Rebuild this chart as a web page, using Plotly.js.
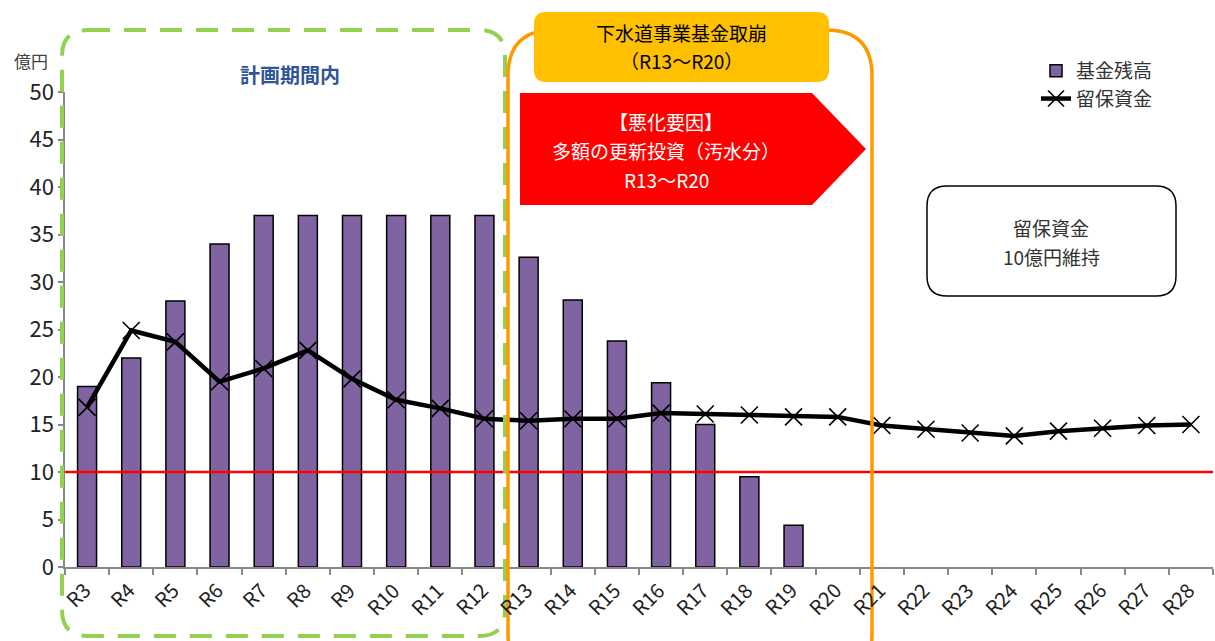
<!DOCTYPE html>
<html>
<head>
<meta charset="utf-8">
<script src="https://cdn.plot.ly/plotly-3.0.1.min.js"></script>
<style>
  html, body { margin: 0; padding: 0; background: #fff; }
  #chart { width: 1215px; height: 641px; }
</style>
</head>
<body>
<div id="chart"></div>
<script>
// 年度（令和）
const years = ['R3','R4','R5','R6','R7','R8','R9','R10','R11','R12','R13','R14','R15','R16',
               'R17','R18','R19','R20','R21','R22','R23','R24','R25','R26','R27','R28'];

// 基金残高（億円） R20以降は残高なし
const fundBalance = [19.0, 22.0, 28.0, 34.0, 37.0, 37.0, 37.0, 37.0, 37.0, 37.0, 32.6, 28.1, 23.8, 19.4,
                     15.0, 9.5, 4.4, null, null, null, null, null, null, null, null, null];

// 留保資金（億円）
const reserveFunds = [16.8, 24.9, 23.7, 19.5, 20.9, 22.8, 19.8, 17.6, 16.7, 15.6, 15.4, 15.6, 15.6, 16.2,
                      16.1, 16.0, 15.8, 15.8, 14.9, 14.5, 14.1, 13.8, 14.3, 14.6, 14.9, 15.0];

// 留保資金の維持目標（億円）
const reserveTarget = 10;

const FONT = 'Noto Sans CJK JP, Noto Sans, sans-serif';

// plot area in page pixels
const W = 1215, H = 641;
const M = { l: 65, r: 2, t: 92, b: 74 };
const PW = W - M.l - M.r, PH = H - M.t - M.b;
const px = x => (x - M.l) / PW;
const py = y => (H - M.b - y) / PH;

// rounded rectangle as a path in paper coordinates
function roundRect(x0, y0, x1, y1, r) {
  const p = (x, y) => px(x).toFixed(5) + ',' + py(y).toFixed(5);
  return 'M' + p(x0 + r, y0) +
         ' L' + p(x1 - r, y0) + ' Q' + p(x1, y0) + ' ' + p(x1, y0 + r) +
         ' L' + p(x1, y1 - r) + ' Q' + p(x1, y1) + ' ' + p(x1 - r, y1) +
         ' L' + p(x0 + r, y1) + ' Q' + p(x0, y1) + ' ' + p(x0, y1 - r) +
         ' L' + p(x0, y0 + r) + ' Q' + p(x0, y0) + ' ' + p(x0 + r, y0) + ' Z';
}
// pentagon arrow pointing right
function arrowBox(x0, y0, xNotch, xTip, y1) {
  const p = (x, y) => px(x).toFixed(5) + ',' + py(y).toFixed(5);
  return 'M' + p(x0, y0) + ' L' + p(xNotch, y0) + ' L' + p(xTip, (y0 + y1) / 2) +
         ' L' + p(xNotch, y1) + ' L' + p(x0, y1) + ' Z';
}

const traces = [
  { type: 'bar', name: '基金残高', x: years, y: fundBalance, width: 0.43,
    marker: { color: '#8064A2', line: { color: '#000', width: 1.5 } } },
  { type: 'scatter', mode: 'lines+markers', name: '留保資金', x: years, y: reserveFunds,
    line: { color: '#000', width: 4.5 },
    marker: { symbol: 'x-thin', size: 17, color: '#000', line: { color: '#000', width: 1.6 } } }
];

const shapes = [
  // 維持目標ライン
  { type: 'line', xref: 'paper', yref: 'y', x0: 0, x1: 1, y0: reserveTarget, y1: reserveTarget,
    line: { color: '#FF0000', width: 2.5 }, layer: 'above' },
  // 計画期間
  { type: 'path', xref: 'paper', yref: 'paper', path: roundRect(62, 30, 505, 636, 26),
    line: { color: '#92D050', width: 4, dash: '22px,14px' }, fillcolor: 'rgba(0,0,0,0)', layer: 'above' },
  // 基金取崩期間
  { type: 'path', xref: 'paper', yref: 'paper', path: roundRect(508, 30, 872, 680, 46),
    line: { color: '#FF9900', width: 3.5 }, fillcolor: 'rgba(0,0,0,0)', layer: 'above' },
  { type: 'path', xref: 'paper', yref: 'paper', path: roundRect(534, 12, 829, 82, 12),
    line: { width: 0 }, fillcolor: '#FFC000', layer: 'above' },
  { type: 'path', xref: 'paper', yref: 'paper', path: arrowBox(520, 93, 812, 866, 205),
    line: { width: 0 }, fillcolor: '#FF0000', layer: 'above' },
  // 留保資金の注記枠
  { type: 'path', xref: 'paper', yref: 'paper', path: roundRect(927, 186, 1176, 296, 20),
    line: { color: '#000', width: 1.5 }, fillcolor: '#FFFFFF', layer: 'above' }
];

function label(x, y, text, size, color) {
  return { xref: 'paper', yref: 'paper', x: px(x), y: py(y), text: text, showarrow: false,
           xanchor: 'center', yanchor: 'middle', font: { family: FONT, size: size, color: color } };
}

// slanted year labels placed on the category axis
const yearLabels = years.map(yr => ({
  xref: 'x', yref: 'paper', x: yr, y: 0, xshift: 12, yshift: -6,
  text: yr, showarrow: false, textangle: -45, xanchor: 'right', yanchor: 'top',
  font: { family: FONT, size: 20, color: '#222' }
}));

const annotations = [
  label(31, 61, '億円', 17, '#404040'),
  label(290, 75, '<b>計画期間内</b>', 20, '#2F5597'),
  label(681, 33, '下水道事業基金取崩', 19, '#000'),
  label(681, 61, '（R13〜R20）', 19, '#000'),
  label(666, 121, '【悪化要因】', 19, '#FFFFFF'),
  label(666, 150, '多額の更新投資（汚水分）', 19, '#FFFFFF'),
  label(666, 179, 'R13〜R20', 19, '#FFFFFF'),
  label(1051, 227, '留保資金', 19, '#333333'),
  label(1051, 256, '10億円維持', 19, '#333333')
].concat(yearLabels);

const layout = {
  width: W, height: H,
  margin: { l: M.l, r: M.r, t: M.t, b: M.b, autoexpand: false },
  paper_bgcolor: '#fff', plot_bgcolor: '#fff',
  font: { family: FONT, color: '#333' },
  showlegend: true,
  legend: { x: px(1036), y: py(52), xanchor: 'left', yanchor: 'top',
            font: { family: FONT, size: 19, color: '#333' }, bgcolor: 'rgba(0,0,0,0)' },
  bargap: 0.57,
  xaxis: { type: 'category', range: [-0.5, years.length - 0.5],
    showline: true, linecolor: '#888', linewidth: 1.5,
    ticks: 'outside', tickson: 'boundaries', ticklen: 6, tickcolor: '#888', tickwidth: 1.5,
    showticklabels: false, showgrid: false, zeroline: false },
  yaxis: { range: [0, 50], dtick: 5,
    showline: true, linecolor: '#888', linewidth: 1.5,
    ticks: 'outside', ticklen: 5, tickcolor: '#888', tickwidth: 1.5,
    tickfont: { family: FONT, size: 22, color: '#222' },
    showgrid: false, zeroline: false },
  shapes: shapes,
  annotations: annotations
};

Plotly.newPlot('chart', traces, layout, { displayModeBar: false });
</script>
</body>
</html>
